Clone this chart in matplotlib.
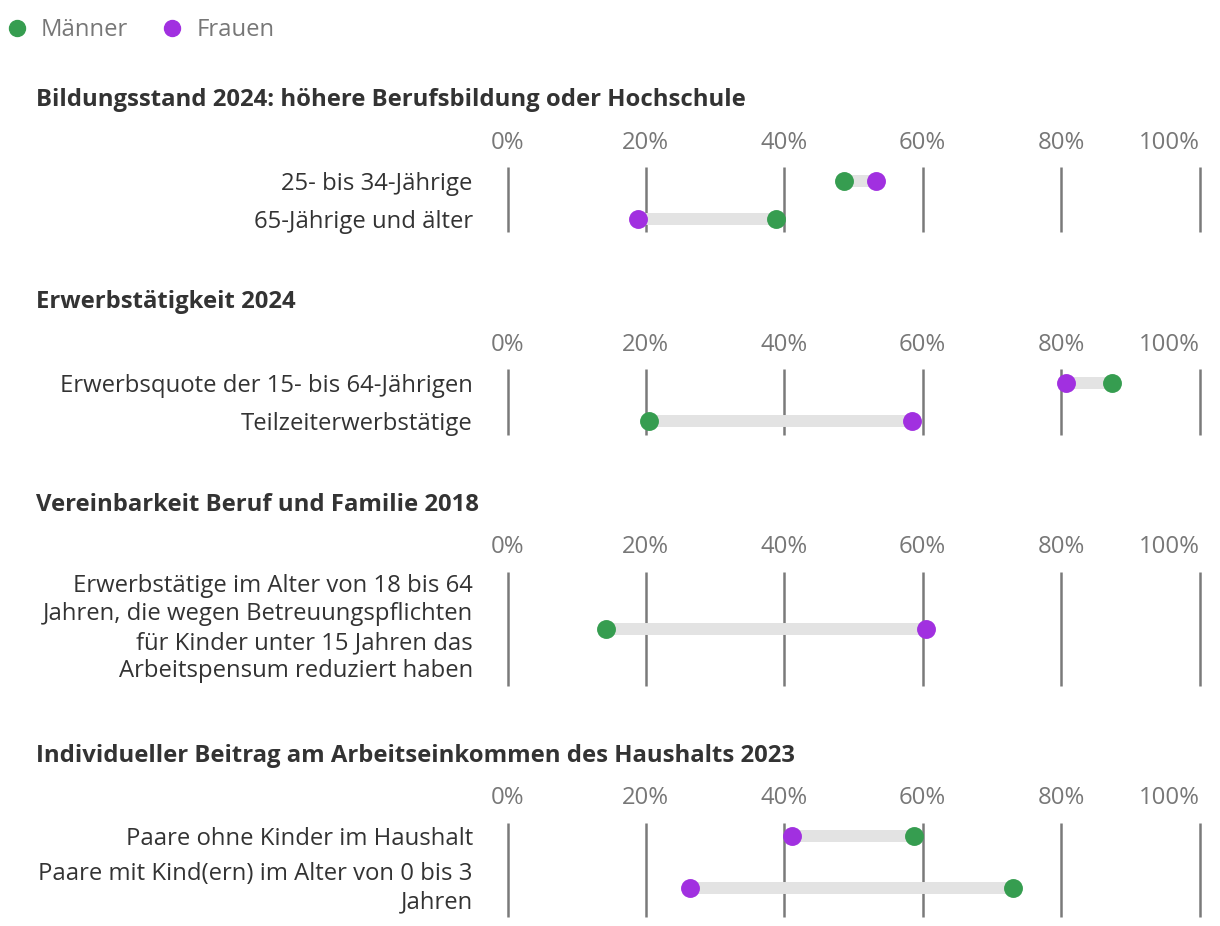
import matplotlib.pyplot as plt
from matplotlib.lines import Line2D

plt.rcParams['font.family'] = ['Open Sans', 'Noto Sans', 'DejaVu Sans']

# Daten
titel = [
    'Bildungsstand 2024: höhere Berufsbildung oder Hochschule',
    'Erwerbstätigkeit 2024',
    'Vereinbarkeit Beruf und Familie 2018',
    'Individueller Beitrag am Arbeitseinkommen des Haushalts 2023',
]
kategorien = [
    ['25- bis 34-Jährige', '65-Jährige und älter'],
    ['Erwerbsquote der 15- bis 64-Jährigen', 'Teilzeiterwerbstätige'],
    ['Erwerbstätige im Alter von 18 bis 64\nJahren, die wegen Betreuungspflichten\n'
     'für Kinder unter 15 Jahren das\nArbeitspensum reduziert haben'],
    ['Paare ohne Kinder im Haushalt', 'Paare mit Kind(ern) im Alter von 0 bis 3\nJahren'],
]
maenner = [[48.6, 38.8], [87.3, 20.4], [14.3], [58.7, 73.1]]
frauen = [[53.2, 18.9], [80.7, 58.4], [60.5], [41.1, 26.4]]
ticks = [0, 20, 40, 60, 80, 100]
tick_labels = ['0%', '20%', '40%', '60%', '80%', '100%']

GRUEN = '#369d50'
LILA = '#a130e0'
BALKEN = '#e3e3e3'
GRID = '#7a7a7a'
TEXT = '#333333'
GRAU = '#777777'
FS = 17.2

W, H = 1220, 926
fig = plt.figure(figsize=(W / 100, H / 100), dpi=100)
fig.patch.set_facecolor('white')

X0, X1 = 507.5, 1199.5
ZEILE = 28.7

def fy(y):
    return 1 - y / H

# Legende
handles = [
    Line2D([], [], marker='o', ls='', color=GRUEN, markersize=11.5),
    Line2D([], [], marker='o', ls='', color=LILA, markersize=11.5),
]
fig.legend(handles, ['Männer', 'Frauen'], loc='center left',
           bbox_to_anchor=(-2 / W, fy(30)), ncol=2, frameon=False,
           handlelength=0.8, handletextpad=0.6, columnspacing=1.45,
           labelcolor=GRAU, prop={'size': FS}, borderaxespad=0)

y = 100
for t, kat, m, f in zip(titel, kategorien, maenner, frauen):
    fig.text(36 / W, fy(y), t, fontsize=FS, fontweight='bold', color=TEXT,
             va='center', ha='left')
    top = y + 67
    hoehen = [k.count('\n') * ZEILE + ZEILE + 9 for k in kat]
    pos = []
    c = top - 5
    for h in hoehen:
        pos.append(c + h / 2)
        c += h
    bottom = c - 5

    ax = fig.add_axes([X0 / W, fy(bottom), (X1 - X0) / W, (bottom - top) / H])
    ax.set_xlim(0, 100)
    ax.set_ylim(bottom, top)
    for s in ax.spines.values():
        s.set_visible(False)
    ax.vlines(ticks, top, bottom, color=GRID, lw=1.8, clip_on=False, zorder=1)
    ax.hlines(pos, m, f, color=BALKEN, lw=8.6, zorder=2)
    ax.scatter(m, pos, s=185, color=GRUEN, zorder=3, clip_on=False, linewidths=0)
    ax.scatter(f, pos, s=185, color=LILA, zorder=3, clip_on=False, linewidths=0)

    ax.xaxis.tick_top()
    ax.set_xticks(ticks)
    ax.set_xticklabels(tick_labels, fontsize=FS, color=GRAU)
    ax.xaxis.get_ticklabels()[-1].set_ha('right')
    ax.tick_params(axis='x', length=0, pad=9)
    ax.set_yticks(pos)
    ax.set_yticklabels(kat, fontsize=FS, color=TEXT)
    for lab in ax.yaxis.get_ticklabels():
        lab.set_linespacing(1.25)
        if '\n' in lab.get_text():
            lab.set_va('center')
    ax.tick_params(axis='y', length=0, pad=25)

    y = bottom + 70

fig.savefig('out.png', dpi=100, facecolor='white')
